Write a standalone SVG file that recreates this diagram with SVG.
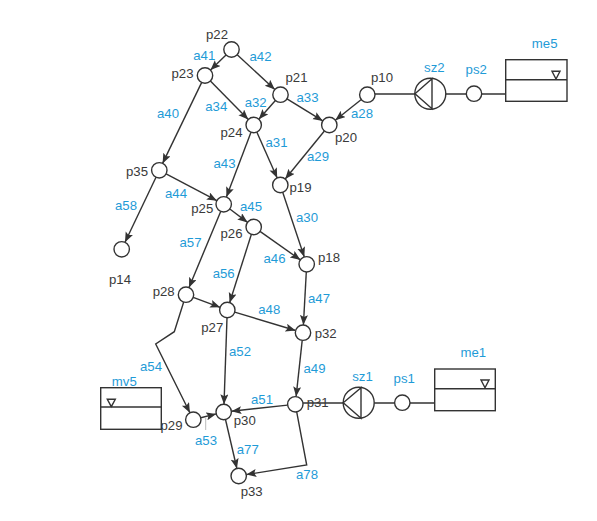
<svg xmlns="http://www.w3.org/2000/svg" width="597" height="521" viewBox="0 0 597 521">
<style>
text{font-family:"Liberation Sans",Arial,sans-serif;font-size:13.2px;text-anchor:middle}
.p{fill:#3a3a3a}
.a{fill:#1f9bd7}
.n{fill:#fff;stroke:#333;stroke-width:1.4}
.c{fill:none;stroke:#333;stroke-width:1.4}
.r{marker-end:url(#ah)}
</style>
<defs>
<marker id="ah" markerUnits="userSpaceOnUse" markerWidth="11" markerHeight="9" refX="10" refY="4" orient="auto"><path d="M0,0L10,4L0,8L2,4Z" fill="#333"/></marker>
</defs>
<rect width="597" height="521" fill="#fff"/>
<g id="connectors">
<path class="c r" d="M226,54.9L210.5,70.1"/>
<path class="c r" d="M237.2,54.7L274.8,89.5"/>
<path class="c r" d="M210.4,81L248.3,119.5"/>
<path class="c r" d="M275.4,100.5L258.8,119.2"/>
<path class="c r" d="M287,98.8L322.8,120.9"/>
<path class="c r" d="M361.3,99.5L335.3,120.2"/>
<path class="c r" d="M201.7,82.4L162.6,163.4"/>
<path class="c r" d="M256.8,132L277.2,178"/>
<path class="c r" d="M324.4,131L285.2,179"/>
<path class="c r" d="M251,132.2L226.4,197.1"/>
<path class="c r" d="M166.1,173.9L216.9,200.7"/>
<path class="c r" d="M156,177.3L125,242.3"/>
<path class="c r" d="M229.8,209L247.6,222.4"/>
<path class="c r" d="M220.7,211.4L189,287.6"/>
<path class="c r" d="M282.7,192.3L304.3,257"/>
<path class="c r" d="M260,231.4L300.4,259.9"/>
<path class="c r" d="M251.4,234.3L229.6,302.7"/>
<path class="c r" d="M306.3,272L303.4,325"/>
<path class="c r" d="M234.7,312.2L295.6,330.5"/>
<path class="c r" d="M193.2,297.4L220.1,307.3"/>
<path class="c r" d="M227,317.7L224,404.3"/>
<path class="c r" d="M302.2,340.4L296.1,396.6"/>
<path class="c r" d="M287.6,405.1L231.4,411.2"/>
<path class="c r" d="M200.8,417.8L216.2,413.9"/>
<path class="c r" d="M225.5,419.5L236.9,468.5"/>
<path class="c r" d="M296.7,411.9L306.7,465L246.3,474.6"/>
<path class="c r" d="M183.7,302L174.3,331.7L155.7,344L189.9,412.8"/>
<path class="c" d="M375,94L415,94M445.8,94H466.3M481.7,94H505.7"/>
<path class="c" d="M303,403H343M374.2,403H394.6M410,403H434.7"/>
<path d="M205.7,418V430" fill="none" stroke="#aaa" stroke-width="0.8"/>
</g>
<g id="p22"><circle class="n" cx="231.5" cy="49.5" r="7.7"/><text class="p" x="217" y="39">p22</text></g>
<g id="p23"><circle class="n" cx="205" cy="75.5" r="7.7"/><text class="p" x="182.5" y="78">p23</text></g>
<g id="p21"><circle class="n" cx="280.5" cy="94.7" r="7.7"/><text class="p" x="296.5" y="81.7">p21</text></g>
<g id="p24"><circle class="n" cx="253.7" cy="125" r="7.7"/><text class="p" x="231.5" y="136.7">p24</text></g>
<g id="p20"><circle class="n" cx="329.3" cy="125" r="7.7"/><text class="p" x="346" y="141.7">p20</text></g>
<g id="p10"><circle class="n" cx="367.3" cy="94.7" r="7.7"/><text class="p" x="382" y="81.7">p10</text></g>
<g id="p35"><circle class="n" cx="159.3" cy="170.3" r="7.7"/><text class="p" x="137" y="175.7">p35</text></g>
<g id="p19"><circle class="n" cx="280.3" cy="185" r="7.7"/><text class="p" x="300.5" y="191.7">p19</text></g>
<g id="p25"><circle class="n" cx="223.7" cy="204.3" r="7.7"/><text class="p" x="202.3" y="213.3">p25</text></g>
<g id="p26"><circle class="n" cx="253.7" cy="227" r="7.7"/><text class="p" x="231.5" y="238.3">p26</text></g>
<g id="p18"><circle class="n" cx="306.7" cy="264.3" r="7.7"/><text class="p" x="329" y="261.7">p18</text></g>
<g id="p14"><circle class="n" cx="121.7" cy="249.3" r="7.7"/><text class="p" x="120" y="284">p14</text></g>
<g id="p28"><circle class="n" cx="186" cy="294.7" r="7.7"/><text class="p" x="163.7" y="296">p28</text></g>
<g id="p27"><circle class="n" cx="227.3" cy="310" r="7.7"/><text class="p" x="212.3" y="331.7">p27</text></g>
<g id="p32"><circle class="n" cx="303" cy="332.7" r="7.7"/><text class="p" x="325.7" y="338.3">p32</text></g>
<g id="p31"><circle class="n" cx="295.3" cy="404.3" r="7.7"/><text class="p" x="317.7" y="406.7">p31</text></g>
<g id="p30"><circle class="n" cx="223.7" cy="412" r="7.7"/><text class="p" x="244.8" y="425">p30</text></g>
<g id="p33"><circle class="n" cx="238.7" cy="476" r="7.7"/><text class="p" x="251.7" y="496">p33</text></g>
<g id="ps2"><circle class="n" cx="474" cy="93.7" r="7.7"/><text class="a" x="476.2" y="74.3">ps2</text></g>
<g id="ps1"><circle class="n" cx="402.3" cy="402.7" r="7.7"/><text class="a" x="404.2" y="383.3">ps1</text></g>
<g id="sz2"><circle class="n" cx="430.3" cy="93.7" r="15.5"/><path class="c" d="M432,78.7V108.7L415,93.7Z"/><text class="a" x="434.3" y="71.7">sz2</text></g>
<g id="sz1"><circle class="n" cx="358.7" cy="402.7" r="15.5"/><path class="c" d="M361,387.7V418.3L343.3,402.7Z"/><text class="a" x="362.5" y="380.7">sz1</text></g>
<g id="me5"><rect class="n" x="505.7" y="59.7" width="61.3" height="41.6"/><path class="c" d="M505.7,79.7H567M552,71.3H560L556,79Z"/><text class="a" x="544.7" y="47.7">me5</text></g>
<g id="me1"><rect class="n" x="434.7" y="369" width="60.6" height="41.7"/><path class="c" d="M434.7,388.7H495.3M481,380H489L485,387.7Z"/><text class="a" x="473.3" y="356.7">me1</text></g>
<g id="mv5"><rect class="n" x="100.7" y="387.7" width="60.6" height="41.6"/><path class="c" d="M100.7,407H161.3M107.3,399.3H115.3L111.3,406.7Z"/><text class="a" x="124.3" y="386">mv5</text></g>
<g id="p29"><circle class="n" cx="193.3" cy="419.7" r="7.7"/><text class="p" x="171.5" y="430">p29</text></g>
<g id="labels">
<text class="a" x="204.3" y="60">a41</text>
<text class="a" x="260.5" y="61">a42</text>
<text class="a" x="307.5" y="101.7">a33</text>
<text class="a" x="255.7" y="106.7">a32</text>
<text class="a" x="216.3" y="110.7">a34</text>
<text class="a" x="168" y="118.3">a40</text>
<text class="a" x="276.5" y="146.7">a31</text>
<text class="a" x="318" y="160.7">a29</text>
<text class="a" x="224.5" y="168.3">a43</text>
<text class="a" x="176" y="197.7">a44</text>
<text class="a" x="126" y="210">a58</text>
<text class="a" x="251" y="211">a45</text>
<text class="a" x="307" y="222">a30</text>
<text class="a" x="190.5" y="246.7">a57</text>
<text class="a" x="274.5" y="263.3">a46</text>
<text class="a" x="223.7" y="278.3">a56</text>
<text class="a" x="319" y="303.3">a47</text>
<text class="a" x="269.3" y="314">a48</text>
<text class="a" x="240" y="355.7">a52</text>
<text class="a" x="151" y="371">a54</text>
<text class="a" x="314.5" y="373.3">a49</text>
<text class="a" x="262" y="404">a51</text>
<text class="a" x="206" y="444.7">a53</text>
<text class="a" x="247.8" y="454.3">a77</text>
<text class="a" x="307" y="479">a78</text>
<text class="a" x="362" y="118.3">a28</text>
</g>
</svg>
